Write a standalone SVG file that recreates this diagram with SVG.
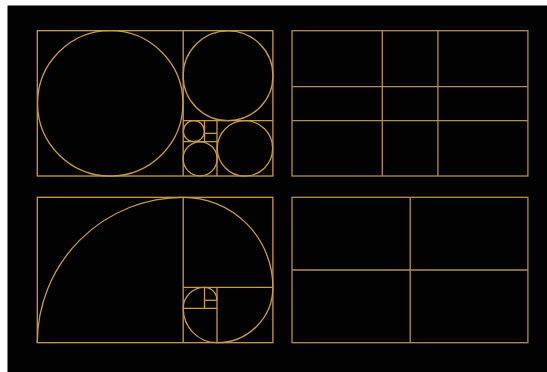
<svg xmlns="http://www.w3.org/2000/svg" width="547" height="372" viewBox="0 0 547 372">
<style>
.g{fill:none;stroke:#c79c48;stroke-width:1.3}
.m{fill:none;stroke:#b08f55;stroke-width:1.3}
</style>
<rect x="0" y="0" width="547" height="372" fill="#ffffff"/>
<rect x="7.5" y="5.5" width="539.5" height="366.5" fill="#020202"/>
<g id="panel-circles" class="g">
<rect x="37.3" y="30.7" width="235.6" height="145.3"/>
<line x1="183.2" y1="30.7" x2="183.2" y2="176"/>
<line x1="183.2" y1="120.7" x2="272.9" y2="120.7"/>
<line x1="217" y1="120.7" x2="217" y2="176"/>
<line x1="183.2" y1="141.7" x2="217" y2="141.7"/>
<line x1="204.5" y1="120.7" x2="204.5" y2="141.7"/>
<line x1="204.5" y1="133.3" x2="217" y2="133.3"/>
<circle cx="110.25" cy="103.35" r="72.7"/>
<circle cx="228.05" cy="75.7" r="44.9"/>
<circle cx="244.95" cy="148.35" r="27.7"/>
<circle cx="200.1" cy="158.85" r="17"/>
<circle cx="193.85" cy="131.2" r="10.5"/>
</g>
<g id="panel-thirds" class="m">
<rect x="292" y="30.7" width="235.9" height="145.3"/>
<line x1="382.3" y1="30.7" x2="382.3" y2="176"/>
<line x1="437.9" y1="30.7" x2="437.9" y2="176"/>
<line x1="292" y1="86.7" x2="527.9" y2="86.7"/>
<line x1="292" y1="120.7" x2="527.9" y2="120.7"/>
</g>
<g id="panel-spiral" class="g">
<rect x="37.3" y="197.3" width="235.6" height="145.4"/>
<line x1="183.2" y1="197.3" x2="183.2" y2="342.7"/>
<line x1="183.2" y1="287.3" x2="272.9" y2="287.3"/>
<line x1="217" y1="287.3" x2="217" y2="342.7"/>
<line x1="183.2" y1="308.3" x2="217" y2="308.3"/>
<line x1="204.5" y1="287.3" x2="204.5" y2="308.3"/>
<line x1="204.5" y1="300.3" x2="217" y2="300.3"/>
<path d="M37.3,342.7 A145.9,145.4 0 0 1 183.2,197.3 A89.7,90 0 0 1 272.9,287.3 A55.9,55.4 0 0 1 217,342.7 A33.8,34.4 0 0 1 183.2,308.3 A21.3,21 0 0 1 204.5,287.3 A12.5,13 0 0 1 217,300.3"/>
</g>
<g id="panel-halves" class="m">
<rect x="292" y="197.3" width="235.9" height="145.4"/>
<line x1="410.2" y1="197.3" x2="410.2" y2="342.7"/>
<line x1="292" y1="270" x2="527.9" y2="270"/>
</g>
</svg>
